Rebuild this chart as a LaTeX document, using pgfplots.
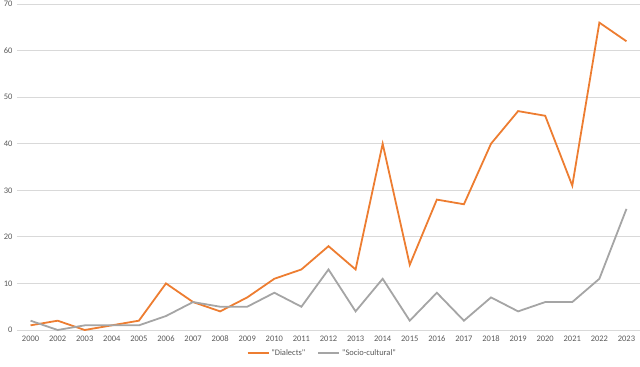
\documentclass[border=0pt]{standalone}
\usepackage{fontspec}
\setmainfont{Carlito}[Ligatures=TeXOff]
\usepackage{pgfplots}
\pgfplotsset{compat=1.18}
\definecolor{dialorange}{HTML}{ED7D31}
\definecolor{sociogray}{HTML}{A5A5A5}
\definecolor{labgray}{HTML}{595959}
\definecolor{gridgray}{HTML}{D9D9D9}
\begin{document}
\begin{tikzpicture}
\begin{axis}[
  at={(0,0)}, anchor=south west,
  scale only axis, width=623bp, height=326bp,
  xmin=-0.5, xmax=22.5, ymin=0, ymax=70,
  ytick={0,10,...,70},
  xtick={0,...,22},
  xticklabels={2000,2002,2003,2004,2005,2006,2007,2008,2009,2010,2011,2012,2013,2014,2015,2016,2017,2018,2019,2020,2021,2022,2023},
  axis line style={draw=none},
  major tick length=0pt,
  ymajorgrids, grid style={gridgray, line width=0.8bp},
  tick label style={font=\fontsize{8.5}{10}\selectfont, text=labgray},
  /pgf/number format/assume math mode=true,
  yticklabel style={xshift=-1bp},
  xticklabel style={yshift=-2bp},
  legend style={draw=none, at={(0.49,-0.07)}, anchor=center, legend columns=2,
    font=\fontsize{8.5}{10}\selectfont, text=labgray,
    /tikz/every even column/.append style={column sep=10bp}},
  legend image code/.code={\draw[#1] (0bp,0bp) -- (21bp,0bp);},
  clip=false,
]
\addplot[dialorange, line width=1.8bp] coordinates {
 (0,1) (1,2) (2,0) (3,1) (4,2) (5,10) (6,6) (7,4) (8,7) (9,11) (10,13) (11,18)
 (12,13) (13,40) (14,14) (15,28) (16,27) (17,40) (18,47) (19,46) (20,31) (21,66) (22,62)};
\addlegendentry{"Dialects"}
\addplot[sociogray, line width=1.8bp] coordinates {
 (0,2) (1,0) (2,1) (3,1) (4,1) (5,3) (6,6) (7,5) (8,5) (9,8) (10,5) (11,13)
 (12,4) (13,11) (14,2) (15,8) (16,2) (17,7) (18,4) (19,6) (20,6) (21,11) (22,26)};
\addlegendentry{"Socio-cultural"}
\end{axis}
\pgfresetboundingbox
\useasboundingbox (-17bp,-37bp) rectangle (623bp,330bp);
\end{tikzpicture}
\end{document}
